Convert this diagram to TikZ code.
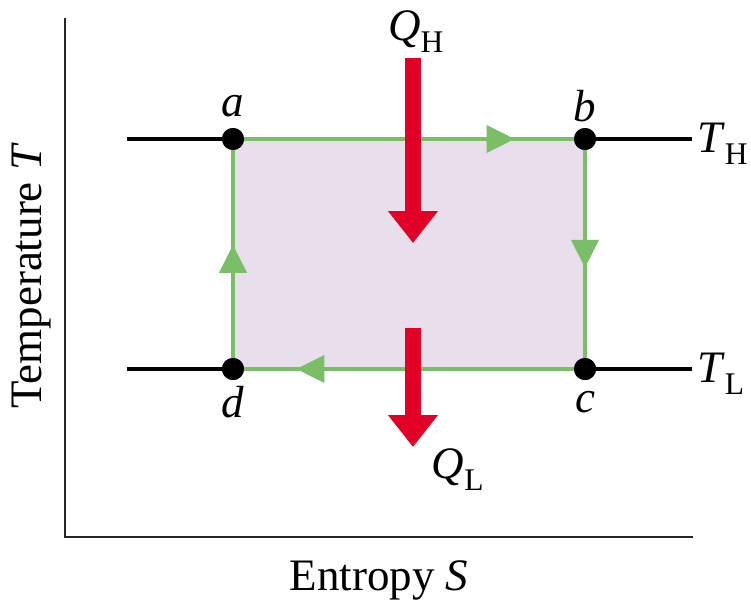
\documentclass[tikz,border=0pt]{standalone}
\usepackage{fontspec}
\setmainfont{LiberationSerif}[Extension=.ttf,UprightFont=*-Regular,ItalicFont=*-Italic,BoldFont=*-Bold,BoldItalicFont=*-BoldItalic]
\usetikzlibrary{arrows.meta,decorations.markings}
\definecolor{cycgreen}{RGB}{122,190,104}
\definecolor{cycfill}{RGB}{233,222,236}
\definecolor{heatred}{RGB}{226,0,38}
\tikzset{
  lbl/.style={font=\fontsize{45}{50}\selectfont,inner sep=0pt},
  state/.style={circle,fill=black,minimum size=22pt,inner sep=0pt},
  iso/.style={line width=4pt,black},
  axis/.style={line width=2.5pt,black!85},
  heat/.style={-{Triangle[width=48pt,length=32pt]},line width=16pt,heatred},
  leg/.style={line width=4pt,cycgreen,decoration={markings,
    mark=at position #1 with {\arrow{Triangle[width=27pt,length=28pt]}}},postaction={decorate}}
}
\begin{document}
\begin{tikzpicture}[x=1pt,y=-1pt]
  \useasboundingbox (0,0) rectangle (751,608);
  % axes
  \draw[axis] (65,18) -- (65,537) -- (693,537);
  \node[lbl,rotate=90] (tlab) at (32,276) {Temperature \textit{T}};
  \node[lbl] (slab) at (379,580) {Entropy \textit{S}};
  % cycle
  \fill[cycfill] (233,139) rectangle (585,369);
  \coordinate (hl) at (127,139);
  \coordinate (hr) at (692,139);
  \coordinate (ll) at (127,369);
  \coordinate (lr) at (692,369);
  \draw[iso] (hl) -- (hr);
  \draw[iso] (ll) -- (lr);
  \node[state] (a) at (233,139) {};
  \node[state] (b) at (585,139) {};
  \node[state] (c) at (585,369) {};
  \node[state] (d) at (233,369) {};
  \draw[leg=0.8] (a.center) -- (b.center);
  \draw[leg=0.56] (b.center) -- (c.center);
  \draw[leg=0.82] (c.center) -- (d.center);
  \draw[leg=0.54] (d.center) -- (a.center);
  \node[state] at (a) {};
  \node[state] at (b) {};
  \node[state] at (c) {};
  \node[state] at (d) {};
  \node[lbl] (alab) at (233,106) {\textit{a}};
  \node[lbl] (blab) at (585,106) {\textit{b}};
  \node[lbl] (clab) at (585,402) {\textit{c}};
  \node[lbl] (dlab) at (233,402) {\textit{d}};
  \node[lbl,anchor=west] (th) at (697,144) {\textit{T}\textsubscript{H}};
  \node[lbl,anchor=west] (tl) at (697,374) {\textit{T}\textsubscript{L}};
  % heat flows
  \node[lbl] (qh) at (416,32) {\textit{Q}\textsubscript{H}};
  \node[lbl] (ql) at (458,470) {\textit{Q}\textsubscript{L}};
  \coordinate (qhs) at (413,58);
  \coordinate (qhe) at (413,243);
  \coordinate (qls) at (413,328);
  \coordinate (qle) at (413,447);
  \draw[heat] (qhs) -- (qhe);
  \draw[heat] (qls) -- (qle);
\end{tikzpicture}
\end{document}
